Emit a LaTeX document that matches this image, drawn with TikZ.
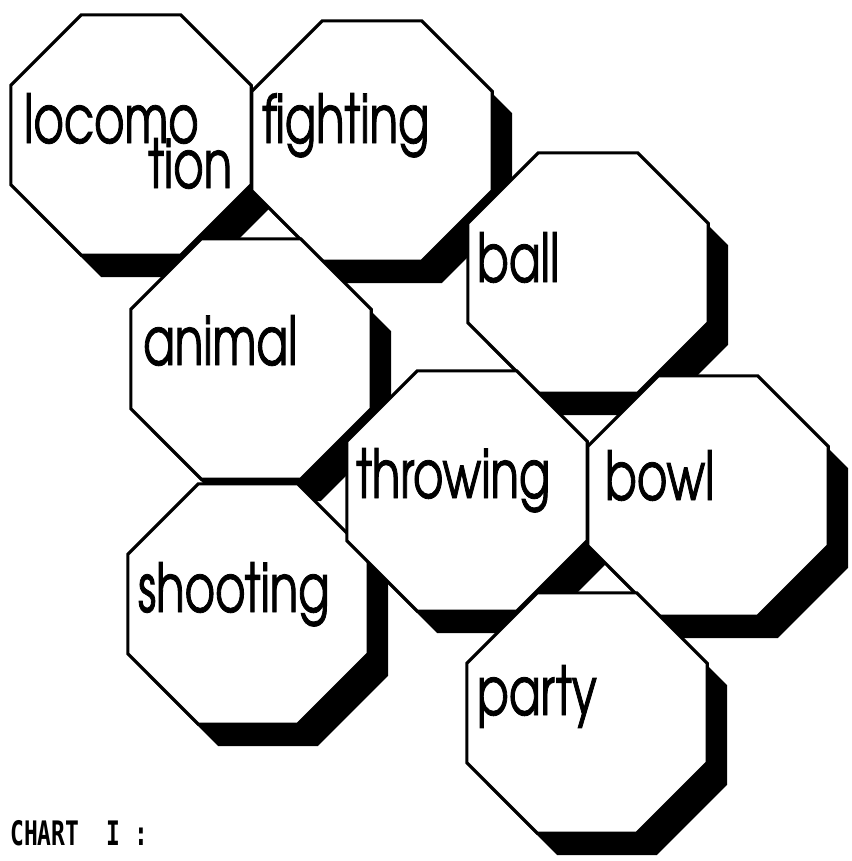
\documentclass[tikz,border=0pt]{standalone}
\usepackage{fontspec}
\usetikzlibrary{shapes.geometric,shadows}
\newfontfamily\wordfont{texgyreadventor-regular.otf}[FakeStretch=0.69,FakeBold=1.2]
\newfontfamily\chartfont{DejaVu Sans Mono}[FakeStretch=0.68]
\tikzset{
  cell/.style={regular polygon,regular polygon sides=8,minimum size=6.5cm,
    inner sep=0pt,outer sep=0pt,draw,line width=2.3pt,fill=white,
    drop shadow={shadow xshift=0.5cm,shadow yshift=-0.55cm,fill=black,opacity=1}},
  word/.style={anchor=base west,inner sep=0pt,
    font=\wordfont\fontsize{48}{48}\selectfont},
  caption/.style={anchor=base west,inner sep=0pt,
    font=\chartfont\bfseries\fontsize{24}{24}\selectfont}
}

\begin{document}
\begin{tikzpicture}[x=0.025cm,y=-0.025cm]
\useasboundingbox (0,0) rectangle (852,861);
% octagons, upper left first so the shadows fall under the later ones
\node[cell] (locomotion) at (131,135) {};
\node[cell] (fighting) at (372,141) {};
\node[cell] (animal) at (251,359) {};
\node[cell] (shooting) at (248,604) {};
\node[cell] (ball) at (588,273) {};
\node[cell] (throwing) at (467,491) {};
\node[cell] (bowl) at (708,496) {};
\node[cell] (party) at (587,713) {};
% words
\node[word] (locomotion-a) at ([shift={(13,8)}]locomotion.west) {locomo};
\node[word] (locomotion-b) at ([shift={(137,53)}]locomotion.west) {tion};
\node[word] (fighting-w) at ([shift={(10,2)}]fighting.west) {fighting};
\node[word] (ball-w) at ([shift={(9,9)}]ball.west) {ball};
\node[word] (animal-w) at ([shift={(12,6)}]animal.west) {animal};
\node[word] (throwing-w) at ([shift={(9,7)}]throwing.west) {throwing};
\node[word] (bowl-w) at ([shift={(17,4)}]bowl.west) {bowl};
\node[word] (shooting-w) at ([shift={(10,8)}]shooting.west) {shooting};
\node[word] (party-w) at ([shift={(10,2)}]party.west) {party};
\node[caption] (chart) at (10,845) {CHART~~I~:};
\end{tikzpicture}
\end{document}
